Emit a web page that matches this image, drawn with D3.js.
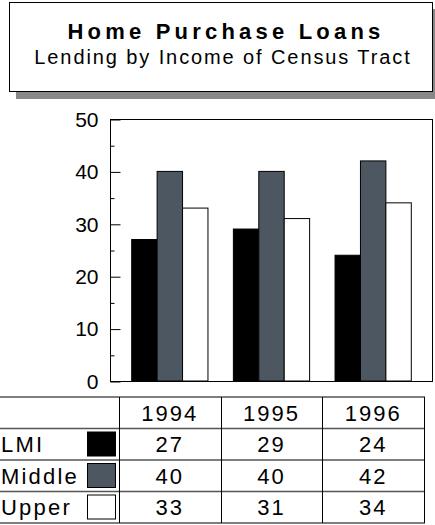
<!DOCTYPE html>
<html>
<head>
<meta charset="utf-8">
<script src="https://cdn.jsdelivr.net/npm/d3@7"></script>
<style>
  body { margin: 0; background: #fff; }
  text { font-family: "Liberation Sans", Arial, sans-serif; fill: #000; }
</style>
</head>
<body>
<svg id="chart" width="435" height="525"></svg>
<script>
// data
var years = ["1994", "1995", "1996"];
var series = ["LMI", "Middle", "Upper"];
var lmi = [27, 29, 24];
var middle = [40, 40, 42];
var upper = [33, 31, 34];
var colors = ["#000000", "#4c5761", "#ffffff"];
var yTicks = [0, 10, 20, 30, 40, 50];

var values = [lmi, middle, upper];

var svg = d3.select("#chart");

// title box with shadow
svg.append("rect").attr("x", 16).attr("y", 9).attr("width", 424).attr("height", 90).attr("fill", "#888");
svg.append("rect").attr("x", 9.5).attr("y", 2.5).attr("width", 423).attr("height", 89)
  .attr("fill", "#fff").attr("stroke", "#000");

svg.append("text").attr("x", 226).attr("y", 39).attr("text-anchor", "middle")
  .style("font-size", "22px").style("font-weight", "bold").style("letter-spacing", "4.2px")
  .text("Home Purchase Loans");
svg.append("text").attr("x", 223).attr("y", 64).attr("text-anchor", "middle")
  .style("font-size", "20px").style("letter-spacing", "1.9px")
  .text("Lending by Income of Census Tract");

// scales
var x0 = d3.scaleBand().domain(years).range([119, 424]).paddingInner(0.25).paddingOuter(0.125);
var x1 = d3.scaleBand().domain(series).range([0, x0.bandwidth()]);
var y = d3.scaleLinear().domain([0, 50]).range([381, 119]);

var plotL = 110, plotR = 432;

// bars
var g = svg.append("g");
series.forEach(function(s, si) {
  g.selectAll(".bar" + si)
    .data(years)
    .enter().append("rect")
    .attr("x", function(d) { return x0(d) + x1(s); })
    .attr("y", function(d, i) { return y(values[si][i]); })
    .attr("width", x1.bandwidth())
    .attr("height", function(d, i) { return y(0) - y(values[si][i]); })
    .attr("fill", colors[si])
    .attr("stroke", "#000")
    .attr("stroke-width", 1);
});

// frame
svg.append("rect").attr("x", plotL + 0.5).attr("y", y(50) + 0.5)
  .attr("width", plotR - plotL).attr("height", y(0) - y(50))
  .attr("fill", "none").attr("stroke", "#000");

// y axis, ticks inside
var axis = d3.axisLeft(y).tickValues(yTicks).tickSize(-10).tickPadding(20);
var ag = svg.append("g").attr("transform", "translate(" + (plotL + 0.5) + ",0.5)").call(axis);
ag.select(".domain").remove();
ag.selectAll("text").style("font-size", "21px").style("font-family", "Liberation Sans, Arial, sans-serif")
  .attr("fill", "#000").attr("x", -12);
var minor = d3.axisLeft(y).tickValues([5, 15, 25, 35, 45]).tickSize(-4).tickFormat("");
var mg = svg.append("g").attr("transform", "translate(" + (plotL + 0.5) + ",0.5)").call(minor);
mg.select(".domain").remove();

// data table
var rowTop = 397, rowH = 31.5;
var tbl = svg.append("g");
var step = x0.step();
var colEdges = years.map(function(d, i) { return 119 + i * step; }).concat([119 + 3 * step]);

// horizontal lines
d3.range(5).forEach(function(r) {
  tbl.append("line").attr("x1", 0).attr("x2", 425)
    .attr("y1", rowTop + r * rowH).attr("y2", rowTop + r * rowH)
    .attr("stroke", "#555").attr("stroke-width", 1.5);
});
// vertical lines
colEdges.forEach(function(cx) {
  tbl.append("line").attr("x1", Math.round(cx) + 0.5).attr("x2", Math.round(cx) + 0.5)
    .attr("y1", rowTop).attr("y2", rowTop + 4 * rowH)
    .attr("stroke", "#000");
});

// header
tbl.selectAll(".yr").data(years).enter().append("text")
  .attr("x", function(d) { return x0(d) + x0.bandwidth() / 2; })
  .attr("y", rowTop + rowH / 2 + 8)
  .attr("text-anchor", "middle")
  .style("font-size", "22px").style("letter-spacing", "2px")
  .text(function(d) { return d; });

series.forEach(function(s, si) {
  var ry = rowTop + (si + 1) * rowH;
  tbl.append("text").attr("x", 1).attr("y", ry + rowH / 2 + 8)
    .style("font-size", "22px").style("letter-spacing", "2.2px").text(s);
  tbl.append("rect").attr("x", 87.5).attr("y", ry + 3.5).attr("width", 28).attr("height", 24)
    .attr("fill", colors[si]).attr("stroke", "#000");
  tbl.selectAll(".v" + si).data(years).enter().append("text")
    .attr("x", function(d) { return x0(d) + x0.bandwidth() / 2; })
    .attr("y", ry + rowH / 2 + 8)
    .attr("text-anchor", "middle")
    .style("font-size", "22px").style("letter-spacing", "2px")
    .text(function(d, i) { return values[si][i]; });
});
</script>
</body>
</html>
